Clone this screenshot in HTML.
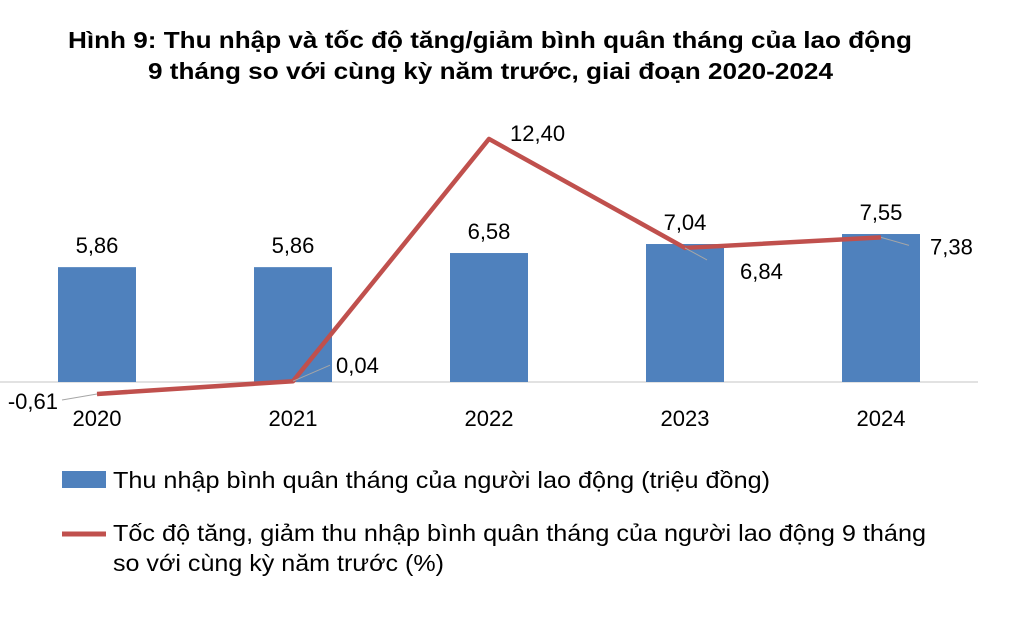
<!DOCTYPE html>
<html><head><meta charset="utf-8"><style>
body{margin:0;background:#fff;}
svg{display:block;font-family:"Liberation Sans",Arial,sans-serif;}
</style></head><body>
<svg id="c" width="1020" height="639">
<text x="68" y="48" textLength="844" lengthAdjust="spacingAndGlyphs" font-size="23" font-weight="bold" fill="#000">Hình 9: Thu nhập và tốc độ tăng/giảm bình quân tháng của lao động</text>
<text x="148" y="79" textLength="685" lengthAdjust="spacingAndGlyphs" font-size="23" font-weight="bold" fill="#000">9 tháng so với cùng kỳ năm trước, giai đoạn 2020-2024</text>
<line x1="0" y1="382" x2="978" y2="382" stroke="#d9d9d9" stroke-width="1.5"/>
<g id="bars"></g><g id="line"></g><g id="labels"></g>
<rect x="62" y="471" width="44" height="17" fill="#4f81bd"/>
<text x="113" y="488" textLength="657" lengthAdjust="spacingAndGlyphs" font-size="23" fill="#000">Thu nhập bình quân tháng của người lao động (triệu đồng)</text>
<line x1="62" y1="534" x2="106" y2="534" stroke="#c0504d" stroke-width="5"/>
<text x="113" y="541" textLength="813" lengthAdjust="spacingAndGlyphs" font-size="23" fill="#000">Tốc độ tăng, giảm thu nhập bình quân tháng của người lao động 9 tháng</text>
<text x="113" y="571" textLength="331" lengthAdjust="spacingAndGlyphs" font-size="23" fill="#000">so với cùng kỳ năm trước (%)</text>
</svg>
<script>
const categories=["2020","2021","2022","2023","2024"];
const incomeValues=[5.86,5.86,6.58,7.04,7.55];
const growthValues=[-0.61,0.04,12.40,6.84,7.38];
const incomeLabels=["5,86","5,86","6,58","7,04","7,55"];
const growthLabels=["-0,61","0,04","12,40","6,84","7,38"];
const NS="http://www.w3.org/2000/svg";
const x=i=>97+i*196;
const y=v=>382-v*19.6;
function mk(t,a,p){const e=document.createElementNS(NS,t);for(const k in a)e.setAttribute(k,a[k]);p.appendChild(e);return e;}
const bars=document.getElementById('bars'),line=document.getElementById('line'),labels=document.getElementById('labels');
categories.forEach((c,i)=>{
 const r=mk('rect',{x:x(i)-39,y:y(incomeValues[i]),width:78,height:382-y(incomeValues[i]),fill:'#4f81bd'},bars);
 
 
 const t=mk('text',{x:x(i),y:y(incomeValues[i])-14,'text-anchor':'middle','font-size':22,fill:'#000'},labels);t.textContent=incomeLabels[i];
 
 
 const ct=mk('text',{x:x(i),y:426,'text-anchor':'middle','font-size':22,fill:'#000'},labels);ct.textContent=c;
 
 
});
const pl=mk('polyline',{points:growthValues.map((v,i)=>x(i)+','+y(v)).join(' '),fill:'none',stroke:'#c0504d','stroke-width':4.5,'stroke-linejoin':'round'},line);


// offsets: [textDx, textDy(baseline), anchor, leaderDx, leaderDy]
const offs=[[-39,15,'end',-35,6],[43,-8,'start',37,-16],[21,2,'start',0,0],[55,31,'start',22,12],[49,17,'start',28,8]];
growthValues.forEach((v,i)=>{
 const o=offs[i],px=x(i),py=y(v);
 if(o[3]||o[4]){const l=mk('line',{x1:px,y1:py,x2:px+o[3],y2:py+o[4],stroke:'#a6a6a6','stroke-width':1},labels);
 
 }
 const t=mk('text',{x:px+o[0],y:py+o[1],'text-anchor':o[2],'font-size':22,fill:'#000'},labels);t.textContent=growthLabels[i];
 
 
});
</script>
</body></html>
